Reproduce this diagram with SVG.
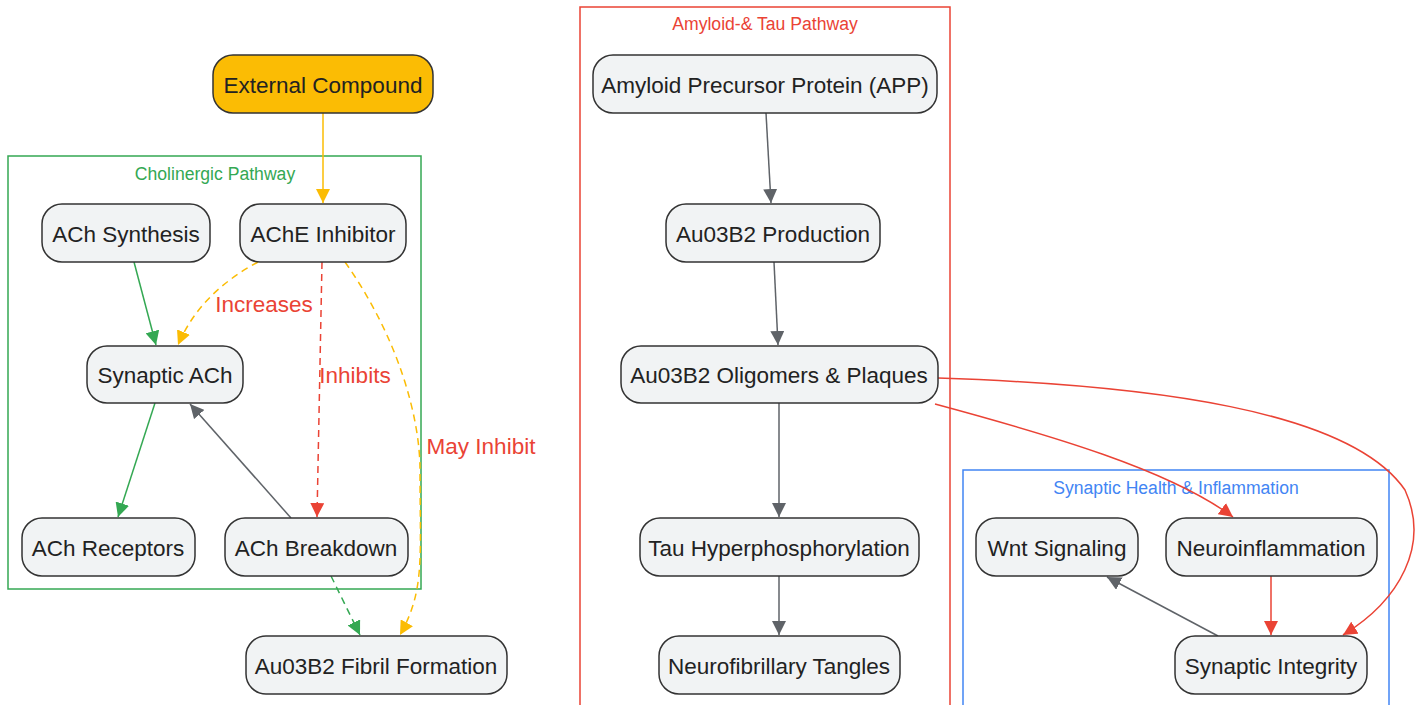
<svg xmlns="http://www.w3.org/2000/svg" width="1423" height="705" viewBox="0 0 1423 705">
<style>
.node rect{fill:#f1f3f4;stroke:#333;stroke-width:1.5}
.node text{font-family:"Liberation Sans",Arial,sans-serif;font-size:22.5px;fill:#222;text-anchor:middle;dominant-baseline:central}
.cl{fill:none;stroke-width:1.5}
.ct{font-family:"Liberation Sans",Arial,sans-serif;font-size:17.6px;text-anchor:middle}
.e{fill:none;stroke-width:1.5}
.d{stroke-dasharray:7 5}
.lbl{font-family:"Liberation Sans",Arial,sans-serif;font-size:22.5px;fill:#ea4335}
</style>
<defs>
<marker id="ag" viewBox="0 0 14 14" refX="14" refY="7" markerWidth="14" markerHeight="14" markerUnits="userSpaceOnUse" orient="auto"><path d="M0,0L14,7L0,14z" fill="#5f6368"/></marker>
<marker id="agr" viewBox="0 0 14 14" refX="14" refY="7" markerWidth="14" markerHeight="14" markerUnits="userSpaceOnUse" orient="auto"><path d="M0,0L14,7L0,14z" fill="#34a853"/></marker>
<marker id="ar" viewBox="0 0 14 14" refX="14" refY="7" markerWidth="14" markerHeight="14" markerUnits="userSpaceOnUse" orient="auto"><path d="M0,0L14,7L0,14z" fill="#ea4335"/></marker>
<marker id="ay" viewBox="0 0 14 14" refX="14" refY="7" markerWidth="14" markerHeight="14" markerUnits="userSpaceOnUse" orient="auto"><path d="M0,0L14,7L0,14z" fill="#fbbc04"/></marker>
</defs>
<rect width="1423" height="705" fill="#fff"/>
<g id="clusters">
<rect class="cl" x="8" y="156" width="413" height="433" stroke="#34a853"/>
<text class="ct" x="215" y="180" fill="#34a853">Cholinergic Pathway</text>
<rect class="cl" x="580" y="7" width="370" height="710" stroke="#ea4335"/>
<text class="ct" x="765" y="30" fill="#ea4335">Amyloid-&amp; Tau Pathway</text>
<rect class="cl" x="963" y="470" width="426" height="250" stroke="#4285f4"/>
<text class="ct" x="1176" y="494" fill="#4285f4">Synaptic Health &amp; Inflammation</text>
</g>
<g id="connectors">
<path class="e" stroke="#fbbc04" d="M323,113L323,203" marker-end="url(#ay)"/>
<path class="e" stroke="#34a853" d="M134,262L156,345" marker-end="url(#agr)"/>
<path class="e d" stroke="#fbbc04" d="M258,262C225,280 195,305 178,345" marker-end="url(#ay)"/>
<path class="e d" stroke="#ea4335" d="M322,262L317,517" marker-end="url(#ar)"/>
<path class="e d" stroke="#fbbc04" d="M345,262C400,340 420,420 420,470C420,560 425,590 400,635" marker-end="url(#ay)"/>
<path class="e" stroke="#34a853" d="M155,403L118,517" marker-end="url(#agr)"/>
<path class="e" stroke="#5f6368" d="M291,518L190,404" marker-end="url(#ag)"/>
<path class="e d" stroke="#34a853" d="M331,576L360,635" marker-end="url(#agr)"/>
<path class="e" stroke="#5f6368" d="M766,113L771,203" marker-end="url(#ag)"/>
<path class="e" stroke="#5f6368" d="M774,262L778,345" marker-end="url(#ag)"/>
<path class="e" stroke="#5f6368" d="M779,403L779,517" marker-end="url(#ag)"/>
<path class="e" stroke="#5f6368" d="M779,576L779,635" marker-end="url(#ag)"/>
<path class="e" stroke="#ea4335" d="M935,404C1050,435 1170,470 1233,517" marker-end="url(#ar)"/>
<path class="e" stroke="#ea4335" d="M938,378C1150,385 1350,410 1405,490C1430,545 1400,600 1343,635" marker-end="url(#ar)"/>
<path class="e" stroke="#ea4335" d="M1271,576L1271,635" marker-end="url(#ar)"/>
<path class="e" stroke="#5f6368" d="M1218,636L1107,577" marker-end="url(#ag)"/>
<text class="lbl" x="264" y="312" text-anchor="middle">Increases</text>
<text class="lbl" x="355" y="383" text-anchor="middle">Inhibits</text>
<text class="lbl" x="481" y="454" text-anchor="middle">May Inhibit</text>
</g>
<g id="n-external" class="node"><rect x="213" y="55" width="220" height="58" rx="20" style="fill:#fbbc04"/><text x="323" y="85">External Compound</text></g>
<g id="n-achsyn" class="node"><rect x="42" y="204" width="168" height="58" rx="20"/><text x="126" y="234">ACh Synthesis</text></g>
<g id="n-ache" class="node"><rect x="240" y="204" width="166" height="58" rx="20"/><text x="323" y="234">AChE Inhibitor</text></g>
<g id="n-synach" class="node"><rect x="87" y="346" width="156" height="57" rx="20"/><text x="165" y="375">Synaptic ACh</text></g>
<g id="n-achrec" class="node"><rect x="22" y="518" width="173" height="58" rx="20"/><text x="108" y="548">ACh Receptors</text></g>
<g id="n-achbr" class="node"><rect x="225" y="518" width="183" height="58" rx="20"/><text x="316" y="548">ACh Breakdown</text></g>
<g id="n-fibril" class="node"><rect x="246" y="636" width="261" height="58" rx="20"/><text x="376" y="666">Au03B2 Fibril Formation</text></g>
<g id="n-app" class="node"><rect x="593" y="55" width="344" height="58" rx="20"/><text x="765" y="85">Amyloid Precursor Protein (APP)</text></g>
<g id="n-prod" class="node"><rect x="666" y="204" width="214" height="58" rx="20"/><text x="773" y="234">Au03B2 Production</text></g>
<g id="n-olig" class="node"><rect x="621" y="346" width="317" height="57" rx="20"/><text x="779" y="375">Au03B2 Oligomers &amp; Plaques</text></g>
<g id="n-tau" class="node"><rect x="640" y="518" width="279" height="58" rx="20"/><text x="779" y="548">Tau Hyperphosphorylation</text></g>
<g id="n-tangles" class="node"><rect x="659" y="636" width="241" height="58" rx="20"/><text x="779" y="666">Neurofibrillary Tangles</text></g>
<g id="n-wnt" class="node"><rect x="976" y="518" width="162" height="58" rx="20"/><text x="1057" y="548">Wnt Signaling</text></g>
<g id="n-neuro" class="node"><rect x="1166" y="518" width="211" height="58" rx="20"/><text x="1271" y="548">Neuroinflammation</text></g>
<g id="n-synint" class="node"><rect x="1175" y="636" width="192" height="58" rx="20"/><text x="1271" y="666">Synaptic Integrity</text></g>
</svg>
